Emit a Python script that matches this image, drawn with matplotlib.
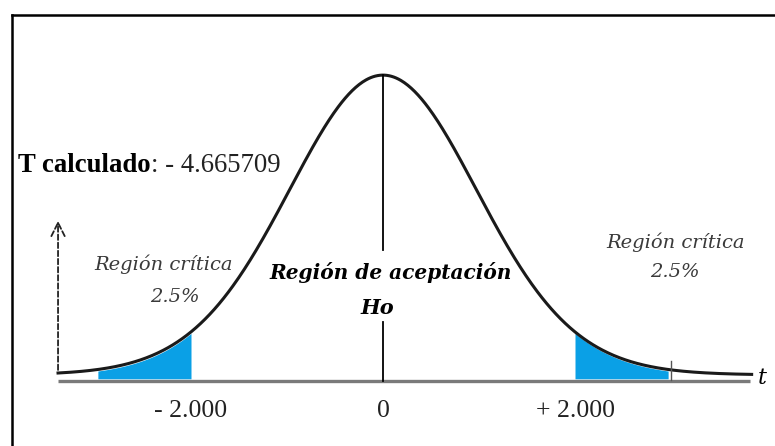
import math
import numpy as np
import matplotlib
matplotlib.use('Agg')
import matplotlib.pyplot as plt

# distribucion t de Student
df = 30
t_crit = 2.000
t_calc = -4.665709
t_min, t_max = -3.385, 3.84      # tramo dibujado de la curva
tail_end = 2.97                  # fin del sombreado en cada cola
tick_labels = ['- 2.000', '0', '+ 2.000']
tick_pos = [-2.0, 0.0, 2.0]

def t_pdf(t, v):
    c = math.exp(math.lgamma((v + 1) / 2) - math.lgamma(v / 2)) / math.sqrt(v * math.pi)
    return c * (1 + t ** 2 / v) ** (-(v + 1) / 2)

t = np.linspace(t_min, t_max, 600)
y = t_pdf(t, df)

fig = plt.figure(figsize=(7.75, 4.46), dpi=100)
ax = fig.add_axes([0, 0, 1, 1])
ax.set_xlim((0 - 383) / 96, (775 - 383) / 96)
ax.set_ylim(-(446 - 375) / 758, 375 / 758)
ax.axis('off')

serif = 'Liberation Serif'
wide = 'DejaVu Serif'
base = -0.008   # eje horizontal

# eje t
ax.plot([t_min, t_max - 0.02], [base, base], color='#7a7a7a', lw=2.4, solid_capstyle='butt', zorder=1)

# colas sombreadas
for a, b in [(-tail_end, -t_crit), (t_crit, tail_end)]:
    tt = np.linspace(a, b, 100)
    ax.fill_between(tt, base + 0.003, t_pdf(tt, df) - 0.002, color='#0aa0e6', lw=0, zorder=2)

# curva
ax.plot(t, y, color='#1a1a1a', lw=2.2, zorder=3)

# linea central (cortada por el texto)
ax.plot([0, 0], [base, (375 - 322) / 758], color='black', lw=1.3, zorder=3)
ax.plot([0, 0], [(375 - 250) / 758, t_pdf(0, df)], color='black', lw=1.3, zorder=3)

# marca pequena en la cola derecha
ax.plot([3.0, 3.0], [base + 0.002, t_pdf(3.0, df) + 0.012], color='#555555', lw=1.0, zorder=3)

# flecha discontinua
ax.annotate('', xy=(t_min, (375 - 218) / 758), xytext=(t_min, 0.003),
            arrowprops=dict(arrowstyle='->', color='#222222', lw=1.3, ls=(0, (3, 1.5)),
                            mutation_scale=24))

# T calculado
txt = ax.text((18 - 383) / 96, (375 - 165) / 758, 'T calculado', fontfamily=serif,
              fontweight='bold', fontsize=19.3, ha='left', va='center')
ax.annotate(': - %.6f' % abs(t_calc), xy=(1, 0), xycoords=txt, va='bottom',
            fontfamily=serif, fontsize=19.3, color='#222222')

gray = '#3a3a3a'
ax.text(-2.281, 0.1464, 'Región crítica', fontfamily=wide, style='italic',
        fontsize=14, ha='center', va='center', color=gray)
ax.text(-2.167, 0.1029, '2.5%', fontfamily=wide, style='italic',
        fontsize=14, ha='center', va='center', color=gray)
ax.text(3.052, 0.1755, 'Región crítica', fontfamily=wide, style='italic',
        fontsize=14, ha='center', va='center', color=gray)
ax.text(3.042, 0.1359, '2.5%', fontfamily=wide, style='italic',
        fontsize=14, ha='center', va='center', color=gray)

ax.text(0.083, 0.1346, 'Región de aceptación', fontfamily=wide, style='italic',
        fontweight='bold', fontsize=14.5, ha='center', va='center')
ax.text(-0.0625, 0.0884, 'Ho', fontfamily=wide, style='italic',
        fontweight='bold', fontsize=15, ha='center', va='center')

for p, lab in zip(tick_pos, tick_labels):
    ax.text(p, -0.048, lab, fontfamily=serif, fontsize=18.5, ha='center', va='center',
            color='#222222')

ax.text(3.948, -0.004, 't', fontfamily=wide, style='italic', fontsize=16,
        ha='center', va='center')

# marco (solo izquierda y arriba visibles)
ax.plot([12 / 775, 12 / 775], [0, 1 - 15 / 446], transform=ax.transAxes, color='black', lw=1.8)
ax.plot([12 / 775, 1], [1 - 15 / 446, 1 - 15 / 446], transform=ax.transAxes, color='black', lw=1.8)

fig.savefig('out.png', dpi=100)
